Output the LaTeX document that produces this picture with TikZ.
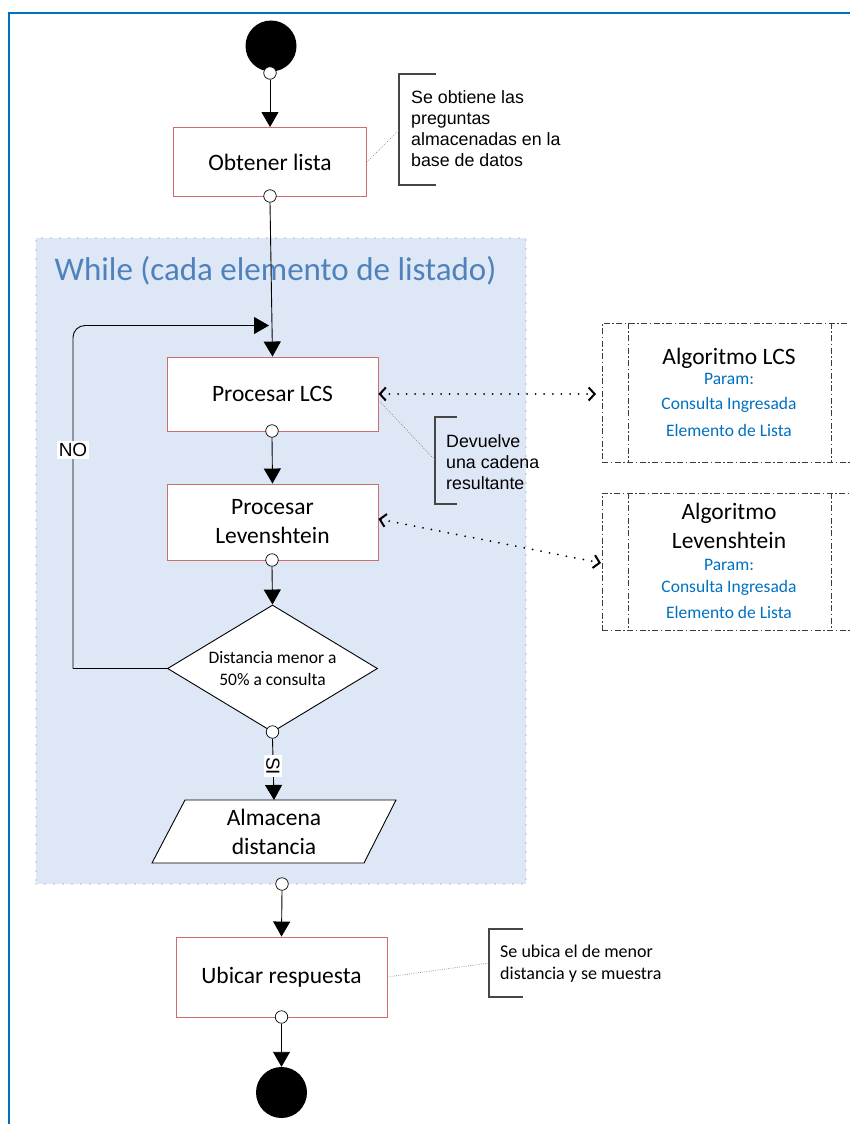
\documentclass[tikz,border=0pt]{standalone}
\usepackage{fontspec}
\setmainfont{Carlito}
\newfontfamily\arialf{Liberation Sans}
\usetikzlibrary{arrows.meta,shapes.geometric}
\pgfdeclarelayer{bg}
\pgfsetlayers{bg,main}

\definecolor{frameblue}{RGB}{0,112,192}
\definecolor{boxred}{RGB}{205,110,108}
\definecolor{loopfill}{RGB}{222,231,245}
\definecolor{titleblue}{RGB}{79,129,189}
\definecolor{paramblue}{RGB}{0,112,192}
\definecolor{notegray}{RGB}{70,70,70}
\definecolor{algray}{RGB}{60,60,60}

\tikzset{
  procbox/.style={draw=boxred, line width=0.9pt, fill=white, minimum width=211pt,
    minimum height=76pt, align=center, inner sep=0pt,
    font=\fontsize{23.5}{29}\selectfont},
  decision/.style={diamond, draw, line width=0.9pt, fill=white, aspect=1.654,
    minimum width=210pt, minimum height=127pt, inner sep=0pt, align=center,
    font=\fontsize{17.5}{22}\selectfont},
  port/.style={circle, draw, line width=0.7pt, fill=white, inner sep=0pt, minimum size=12.5pt},
  flow/.style={line width=0.9pt, -{Triangle[width=17pt,length=15pt]}},
  terminal/.style={circle, fill=black, inner sep=0pt, minimum size=51pt},
  bracket/.style={draw=notegray, line width=1.2pt},
  notelink/.style={draw=gray, line width=0.7pt, dash pattern=on 0.7pt off 1.5pt},
  notetext/.style={anchor=west, align=left, inner sep=0pt},
  callarrow/.style={line width=2pt, line cap=round, dash pattern=on 0pt off 8.6pt,
    {Straight Barb[length=6pt,width=13pt,line width=2pt]}-{Straight Barb[length=6pt,width=13pt,line width=2pt]}},
  algbox/.style={draw=algray, line width=0.9pt, dash pattern=on 6pt off 2.5pt on 1.5pt off 2.5pt},
  algtitle/.style={anchor=base, inner sep=0pt, font=\fontsize{23.5}{29}\selectfont},
  algparam/.style={anchor=base, inner sep=0pt, text=paramblue, font=\fontsize{17.5}{21}\selectfont},
  branchlbl/.style={fill=white, inner sep=2pt, font=\arialf\fontsize{19}{19}\selectfont},
}

\begin{document}
\begin{tikzpicture}[x=1pt,y=-1pt]
\useasboundingbox (0,0) rectangle (850,1124);
\clip (0,0) rectangle (850,1124);

% page frame
\draw[frameblue, line width=2pt] (9,1150) -- (9,13) -- (870,13);

% loop region
\begin{pgfonlayer}{bg}
  \node[fill=loopfill, draw=gray, line width=1.4pt, line cap=round,
        dash pattern=on 0pt off 9pt, minimum width=490pt, minimum height=646pt,
        inner sep=0pt] (loop) at (281,561) {};
  \node[anchor=base west, inner sep=0pt, text=titleblue,
        font=\fontsize{33}{39}\selectfont] (looptitle) at (54.5,280.5)
        {While (cada elemento de listado)};
\end{pgfonlayer}

% flow nodes
\node[terminal] (start) at (271,46) {};
\node[port] (p0) at (270,73) {};
\node[procbox, minimum width=193pt, minimum height=69pt] (obt) at (270,162) {Obtener lista};
\node[port] (p1) at (270,196) {};
\node[procbox, minimum height=74pt] (lcs) at (272.5,394) {Procesar LCS};
\node[port] (p2) at (272,431) {};
\node[procbox] (lev) at (272.5,522) {Procesar\\Levenshtein};
\node[port] (p3) at (272,560) {};
\node[decision] (dec) at (272.5,668.5) {Distancia menor a\\50\% a consulta};
\node[port] (p4) at (272.5,732) {};

% data step (parallelogram)
\coordinate (a1) at (185,800);
\coordinate (a2) at (396,800);
\coordinate (a3) at (364,863);
\coordinate (a4) at (152,863);
\draw[line width=0.9pt, fill=white] (a1) -- (a2) -- (a3) -- (a4) -- cycle;
\node[align=center, inner sep=0pt, font=\fontsize{23.5}{29}\selectfont] (alm) at (274,831.5) {Almacena\\distancia};
\coordinate (almtop) at (274,800);

\node[port] (p5) at (282,884) {};
\node[procbox, minimum height=80pt] (ubi) at (281.5,977) {Ubicar respuesta};
\node[port] (p6) at (281.5,1017) {};
\node[terminal] (end) at (281.5,1092.5) {};

% loop back
\coordinate (lbl) at (73,668.5);
\coordinate (ltl) at (73,325.5);
\coordinate (lend) at (269,325.5);

\begin{pgfonlayer}{bg}
  \draw[flow] (p0.south) -- (obt.north);
  \draw[flow] (p1.south) -- (lcs.north);
  \draw[flow] (p2.south) -- (lev.north);
  \draw[flow] (p3.south) -- (dec.north);
  \draw[flow] (p4.south) -- (almtop);
  \draw[flow] (p5.south) -- (ubi.north);
  \draw[flow] (p6.south) -- (end.north);
  \draw[line width=0.9pt, line cap=rect] (dec.west) -- (lbl);
  \draw[flow, rounded corners=12pt] (lbl) -- (ltl) -- (lend);
\end{pgfonlayer}

\node[branchlbl] (no) at (73,450) {NO};
\node[branchlbl, rotate=-90] (si) at (273,766) {SI};

% notes
\node[notetext, font=\arialf\fontsize{17.8}{21}\selectfont] (n1) at (411,129)
  {Se obtiene las\\preguntas\\almacenadas en la\\base de datos};
\coordinate (b1) at (399,130);
\draw[bracket] (436,74) -- (399,74) -- (399,185) -- (436,185);
\draw[notelink] (obt.east) -- (b1);

\node[notetext, font=\arialf\fontsize{17.8}{21}\selectfont] (n2) at (446,462)
  {Devuelve\\una cadena\\resultante};
\coordinate (b2) at (435,460);
\draw[bracket] (457,417) -- (435,417) -- (435,504) -- (457,504);
\draw[notelink] ([yshift=-6pt]lcs.east) -- (b2);

\node[notetext, font=\fontsize{18}{22}\selectfont] (n3) at (500,964)
  {Se ubica el de menor\\distancia y se muestra};
\coordinate (b3) at (489,963);
\draw[bracket] (523,929) -- (489,929) -- (489,997) -- (523,997);
\draw[notelink] (ubi.east) -- (b3);

% called algorithms
\node[algbox, minimum width=278pt, minimum height=139pt, inner sep=0pt] (alglcs) at (741,392.5) {};
\draw[algbox] (alglcs.north -| 628,0) -- (alglcs.south -| 628,0);
\draw[algbox] (alglcs.north -| 831,0) -- (alglcs.south -| 831,0);
\node[algtitle] (t1) at (729,364.5) {Algoritmo LCS};
\node[algparam] (t2) at (729,384.6) {Param:};
\node[algparam] (t3) at (729,409.6) {Consulta Ingresada};
\node[algparam] (t4) at (729,436.6) {Elemento de Lista};

\node[algbox, minimum width=278pt, minimum height=137pt, inner sep=0pt] (alglev) at (741,561.5) {};
\draw[algbox] (alglev.north -| 628,0) -- (alglev.south -| 628,0);
\draw[algbox] (alglev.north -| 831,0) -- (alglev.south -| 831,0);
\node[algtitle] (u1) at (729,519.5) {Algoritmo};
\node[algtitle] (u2) at (729,548.5) {Levenshtein};
\node[algparam] (u3) at (729,570.6) {Param:};
\node[algparam] (u4) at (729,592.6) {Consulta Ingresada};
\node[algparam] (u5) at (729,618.6) {Elemento de Lista};

\coordinate (lcsin) at (596,394);
\coordinate (levin) at (601,563);
\draw[callarrow] (lcs.east) -- (lcsin);
\draw[callarrow] ([yshift=3pt]lev.east) -- (levin);

\end{tikzpicture}
\end{document}
